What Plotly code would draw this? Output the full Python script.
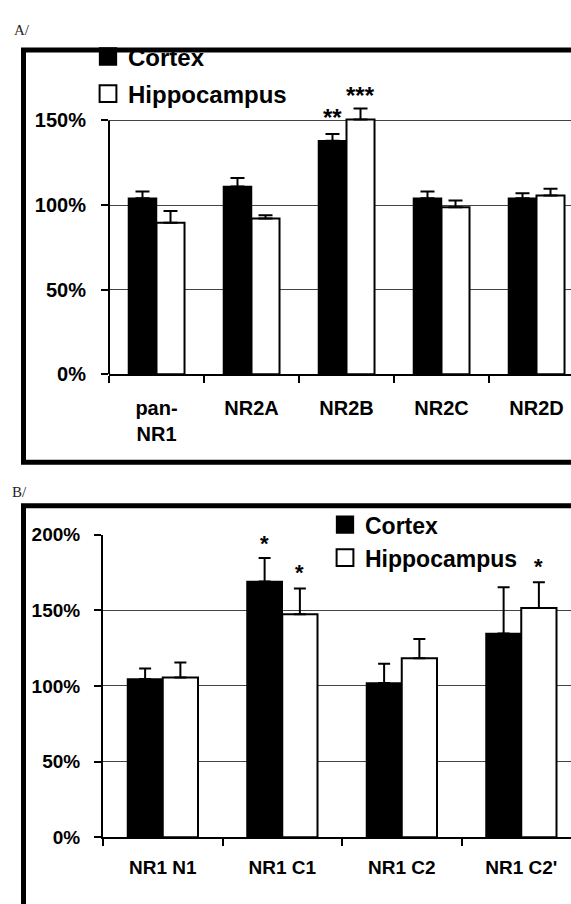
import plotly.graph_objects as go

# ---------------- data ----------------
cat_a = ["pan-<br>NR1", "NR2A", "NR2B", "NR2C", "NR2D"]
cortex_a = [104, 111, 138, 104, 104]
cortex_a_err = [4, 5, 4, 4, 3]
hippo_a = [89.5, 92, 150.5, 98.7, 105.6]
hippo_a_err = [7, 2, 6.5, 4, 4]
sig_a_cortex = ["", "", "**", "", ""]
sig_a_hippo = ["", "", "***", "", ""]

cat_b = ["NR1 N1", "NR1 C1", "NR1 C2", "NR1 C2'"]
cortex_b = [104.5, 169, 102, 134.6]
cortex_b_err = [7, 15.5, 12.6, 30.5]
hippo_b = [105.5, 147.4, 118.3, 151.4]
hippo_b_err = [10, 17, 12.7, 17]
sig_b_cortex = ["", "*", "", ""]
sig_b_hippo = ["", "*", "", "*"]

yticks_a = [0, 50, 100, 150]
yticks_b = [0, 50, 100, 150, 200]
ytick_labels_a = ["0%", "50%", "100%", "150%"]
ytick_labels_b = ["0%", "50%", "100%", "150%", "200%"]

# ---------------- layout helpers ----------------
W, H = 571, 904
def px_x(p):
    return p / W
def px_y(p):
    return 1 - p / H

SANS = "Liberation Sans, Arial, sans-serif"
BARGAP = 0.41
HALF = (1 - BARGAP) / 4

fig = go.Figure()

def add_pair(cats, c_vals, c_err, h_vals, h_err, xa, ya, leg, ew):
    fig.add_bar(x=cats, y=c_vals, name="Cortex", xaxis=xa, yaxis=ya, legend=leg,
                legendgroup=leg + "c",
                marker=dict(color="black", line=dict(color="black", width=1.5)),
                error_y=dict(type="data", array=c_err, arrayminus=[0] * len(c_err),
                             symmetric=False, color="black", thickness=2, width=ew))
    fig.add_bar(x=cats, y=h_vals, name="Hippocampus", xaxis=xa, yaxis=ya, legend=leg,
                legendgroup=leg + "h",
                marker=dict(color="white", line=dict(color="black", width=2)),
                error_y=dict(type="data", array=h_err, arrayminus=[0] * len(h_err),
                             symmetric=False, color="black", thickness=2, width=ew))

add_pair(cat_a, cortex_a, cortex_a_err, hippo_a, hippo_a_err, "x", "y", "legend", 7)
add_pair(cat_b, cortex_b, cortex_b_err, hippo_b, hippo_b_err, "x2", "y2", "legend2", 6)

annotations = []
def add_sigs(sigs, vals, errs, sign, xref, yref, size, shift):
    for i, (s, v, e) in enumerate(zip(sigs, vals, errs)):
        if s:
            annotations.append(dict(x=i + sign * HALF, y=v + e, xref=xref, yref=yref,
                                    text=s, showarrow=False, yanchor="bottom",
                                    xanchor="center", yshift=shift,
                                    font=dict(family=SANS, size=size, color="black",
                                              weight="bold")))

add_sigs(sig_a_cortex, cortex_a, cortex_a_err, -1, "x", "y", 24, 1)
add_sigs(sig_a_hippo, hippo_a, hippo_a_err, 1, "x", "y", 24, -2)
add_sigs(sig_b_cortex, cortex_b, cortex_b_err, -1, "x2", "y2", 22, 0)
add_sigs(sig_b_hippo, hippo_b, hippo_b_err, 1, "x2", "y2", 22, 1)

annotations.append(dict(x=px_x(12), y=px_y(20), xref="paper", yref="paper", text="A/",
                        showarrow=False, xanchor="left", yanchor="middle",
                        font=dict(family="Liberation Serif, serif", size=15, color="#222")))
annotations.append(dict(x=px_x(10), y=px_y(493), xref="paper", yref="paper", text="B/",
                        showarrow=False, xanchor="left", yanchor="middle",
                        font=dict(family="Liberation Serif, serif", size=15, color="#222")))

shapes = [
    dict(type="rect", xref="paper", yref="paper", x0=px_x(23.5), x1=1.05,
         y0=px_y(463), y1=px_y(41), line=dict(color="black", width=5)),
    dict(type="rect", xref="paper", yref="paper", x0=px_x(23.5), x1=1.05,
         y0=-0.05, y1=px_y(507.5), line=dict(color="black", width=5)),
    dict(type="line", xref="x domain", yref="y", x0=0, x1=0, y0=0, y1=150,
         line=dict(color="black", width=2), layer="above"),
    # white backing behind panel B legend (interrupts the 200% gridline)
    dict(type="rect", xref="paper", yref="paper", x0=px_x(331), x1=px_x(523),
         y0=px_y(545), y1=px_y(528), line=dict(width=0), fillcolor="white",
         layer="above"),
]

tickfont_a = dict(family=SANS, size=20, color="black", weight="bold")
tickfont_b = dict(family=SANS, size=19, color="black", weight="bold")

fig.update_layout(
    width=W, height=H, margin=dict(l=0, r=0, t=0, b=0),
    paper_bgcolor="white", plot_bgcolor="rgba(0,0,0,0)",
    barmode="group", bargap=BARGAP, bargroupgap=0,
    showlegend=True,
    xaxis=dict(domain=[px_x(109), 1], anchor="y", type="category",
               range=[-0.5, -0.5 + (W - 109) / 95], tickson="boundaries",
               ticks="outside", ticklen=7, tickwidth=2, tickcolor="black",
               showline=True, linecolor="black", linewidth=2, showgrid=False,
               zeroline=False, tickfont=tickfont_a, ticklabelstandoff=15),
    yaxis=dict(domain=[px_y(373), px_y(373 - 160 * 1.733)], anchor="x",
               range=[0, 160], tickvals=yticks_a, ticktext=ytick_labels_a,
               ticks="outside", ticklen=7, tickwidth=2, tickcolor="black",
               showline=False, showgrid=True, gridcolor="#444", gridwidth=1.2,
               zeroline=False, tickfont=tickfont_a, ticklabelstandoff=11),
    xaxis2=dict(domain=[px_x(103), 1], anchor="y2", type="category",
                range=[-0.5, -0.5 + (W - 103) / 119.5], tickson="boundaries",
                ticks="outside", ticklen=7, tickwidth=2, tickcolor="black",
                showline=True, linecolor="black", linewidth=2, showgrid=False,
                zeroline=False, tickfont=tickfont_b, ticklabelstandoff=12),
    yaxis2=dict(domain=[px_y(847), px_y(537)], anchor="x2",
                range=[0, 200], tickvals=yticks_b, ticktext=ytick_labels_b,
                ticks="outside", ticklen=7, tickwidth=2, tickcolor="black",
                showline=True, linecolor="black", linewidth=2,
                showgrid=True, gridcolor="#444", gridwidth=1.2,
                zeroline=False, tickfont=tickfont_b, ticklabelstandoff=10),
    legend=dict(x=px_x(88), xanchor="left", y=px_y(25), yanchor="top",
                bgcolor="rgba(0,0,0,0)", traceorder="grouped", tracegroupgap=3,
                font=dict(family=SANS, size=24, color="black", weight="bold")),
    legend2=dict(x=px_x(325), xanchor="left", y=px_y(505), yanchor="top",
                 bgcolor="rgba(0,0,0,0)", traceorder="grouped", tracegroupgap=0,
                 font=dict(family=SANS, size=23, color="black", weight="bold")),
    annotations=annotations,
    shapes=shapes,
)

post = """
document.body.style.margin='0';
document.body.style.overflow='hidden';
function enlargeLegendSymbols(){
  document.querySelectorAll('.legendpoints path').forEach(function(p){
    if (p.getAttribute('data-enlarged') === '1') { return; }
    var t = p.getAttribute('transform') || '';
    p.setAttribute('transform', t + ' scale(1.4)');
    p.style.vectorEffect = 'non-scaling-stroke';
    p.setAttribute('data-enlarged', '1');
  });
}
enlargeLegendSymbols();
setTimeout(enlargeLegendSymbols, 0);
setTimeout(enlargeLegendSymbols, 200);
"""

fig.write_html("out.html", config={"displayModeBar": False}, post_script=post)
